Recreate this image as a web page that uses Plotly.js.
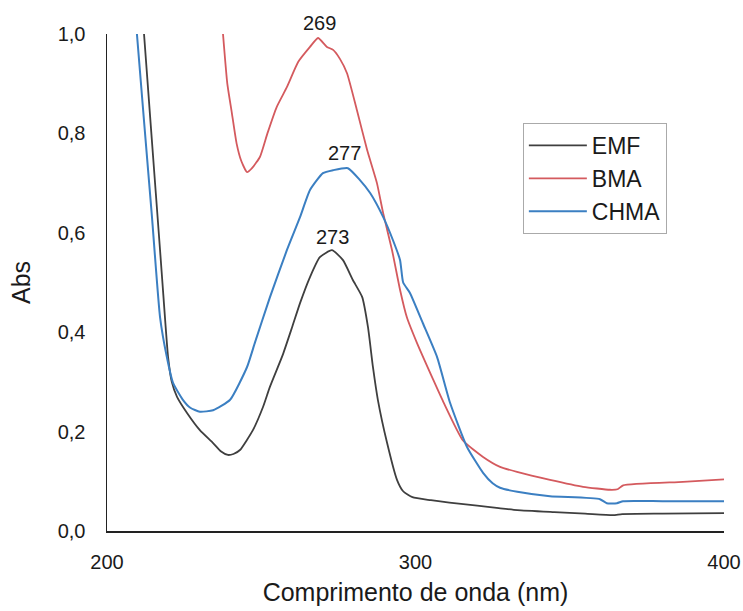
<!DOCTYPE html>
<html>
<head>
<meta charset="utf-8">
<script src="https://cdn.plot.ly/plotly-3.0.1.min.js"></script>
<style>html,body{margin:0;padding:0;background:#fff;}#chart{width:743px;height:611px;}</style>
</head>
<body>
<div id="chart"></div>
<script>
const emfX = [212, 214.5, 217.2, 218.2, 219.8, 221, 222.7, 226, 230.1, 234.4, 237, 239.2, 241, 243.1, 247.3, 250.6, 252.8, 257, 260, 262.6, 265.8, 269, 272.9, 276.5, 279.7, 282.7, 284.6, 286.2, 287.8, 290.8, 294, 296, 299, 305, 311, 320, 327, 333, 345, 355, 364, 367, 380, 400];
const emfY = [1.0, 0.79, 0.565, 0.48, 0.35, 0.3, 0.27, 0.237, 0.203, 0.177, 0.16, 0.153, 0.155, 0.163, 0.203, 0.25, 0.29, 0.355, 0.41, 0.459, 0.511, 0.551, 0.565, 0.545, 0.505, 0.471, 0.41, 0.33, 0.264, 0.177, 0.103, 0.08, 0.068, 0.062, 0.057, 0.051, 0.046, 0.042, 0.038, 0.035, 0.032, 0.034, 0.035, 0.036];

const bmaX = [237.6, 239, 240.5, 242, 243.5, 245.4, 247, 249.6, 252, 255, 258.3, 262, 265.8, 268.4, 271.3, 273.3, 275.5, 277.8, 281, 284.3, 287.5, 289.5, 292.4, 295, 297.2, 300.5, 305.7, 309, 315.4, 321.9, 327.4, 332.9, 343.6, 354.3, 363, 365.5, 367.3, 386.7, 400];
const bmaY = [1.0, 0.9, 0.84, 0.78, 0.745, 0.722, 0.73, 0.753, 0.8, 0.853, 0.893, 0.944, 0.974, 0.992, 0.974, 0.968, 0.95, 0.921, 0.847, 0.767, 0.7, 0.64, 0.565, 0.485, 0.43, 0.378, 0.305, 0.26, 0.182, 0.149, 0.129, 0.119, 0.103, 0.089, 0.083, 0.084, 0.092, 0.099, 0.104];

const chmaX = [209.7, 212, 214.6, 217.2, 219.4, 221.4, 224.6, 227, 230.1, 234.4, 239.9, 245.4, 248, 252.8, 258.3, 262.6, 265.8, 270, 273.3, 278.1, 282, 285.3, 289.5, 292.7, 295, 296, 298.2, 302.4, 307, 311.2, 316.7, 321.9, 325, 327.4, 333, 343.6, 359.8, 362, 365.3, 367.3, 380, 400];
const chmaY = [1.0, 0.825, 0.63, 0.43, 0.35, 0.298, 0.264, 0.248, 0.24, 0.243, 0.264, 0.33, 0.38, 0.47, 0.565, 0.632, 0.686, 0.72, 0.726, 0.73, 0.706, 0.68, 0.632, 0.585, 0.545, 0.5, 0.479, 0.418, 0.35, 0.258, 0.169, 0.117, 0.096, 0.087, 0.079, 0.07, 0.064, 0.056, 0.056, 0.06, 0.06, 0.06];

const peakLabels = ["269", "277", "273"];
const peakX = [269, 277, 273];
const peakY = [1.022, 0.76, 0.592];

const seriesNames = ["EMF", "BMA", "CHMA"];
const xTicks = [200, 300, 400];
const yTicks = [0, 0.2, 0.4, 0.6, 0.8, 1.0];

const font = "Liberation Sans, Arial, sans-serif";
const lineShape = {shape: "spline", smoothing: 0.5};
const traces = [
  {x: emfX, y: emfY, name: seriesNames[0], mode: "lines", line: Object.assign({color: "#3f3f3f", width: 1.8}, lineShape)},
  {x: bmaX, y: bmaY, name: seriesNames[1], mode: "lines", line: Object.assign({color: "#d45a5e", width: 1.8}, lineShape)},
  {x: chmaX, y: chmaY, name: seriesNames[2], mode: "lines", line: Object.assign({color: "#3b7fc2", width: 2}, lineShape)}
];

const annotations = peakLabels.map((t, i) => ({
  x: peakX[i], y: peakY[i], xref: "x", yref: "paper", text: t, showarrow: false,
  xanchor: "center", yanchor: "middle",
  font: {family: font, size: 20, color: "#1a1a1a"}
}));

const layout = {
  width: 743, height: 611,
  margin: {l: 107, r: 19, t: 34, b: 80},
  paper_bgcolor: "#fff", plot_bgcolor: "#fff",
  separators: ",.",
  font: {family: font, color: "#1a1a1a"},
  showlegend: true,
  legend: {
    x: 0.674, y: 0.821, xanchor: "left", yanchor: "top",
    bordercolor: "#aaaaaa", borderwidth: 1, bgcolor: "#fff",
    font: {family: font, size: 23, color: "#1a1a1a"},
    itemwidth: 58,
    tracegroupgap: 0
  },
  xaxis: {
    range: [200, 400], tickvals: xTicks, ticktext: xTicks.map(String),
    showgrid: false, zeroline: false, showline: true, linecolor: "#222", linewidth: 1.5,
    ticks: "", ticklabelstandoff: 12,
    tickfont: {family: font, size: 20, color: "#1a1a1a"},
    title: {text: "Comprimento de onda (nm)", font: {family: font, size: 25, color: "#1a1a1a"}, standoff: 12}
  },
  yaxis: {
    range: [0, 1.0], tickvals: yTicks, tickformat: ".1f",
    showgrid: false, zeroline: false, showline: true, linecolor: "#222", linewidth: 1.5,
    ticks: "", ticklabelstandoff: 16,
    tickfont: {family: font, size: 20, color: "#1a1a1a"},
    title: {text: "Abs", font: {family: font, size: 25, color: "#1a1a1a"}, standoff: 20}
  },
  annotations: annotations
};

Plotly.newPlot("chart", traces, layout, {displayModeBar: false, staticPlot: true});
</script>
</body>
</html>
